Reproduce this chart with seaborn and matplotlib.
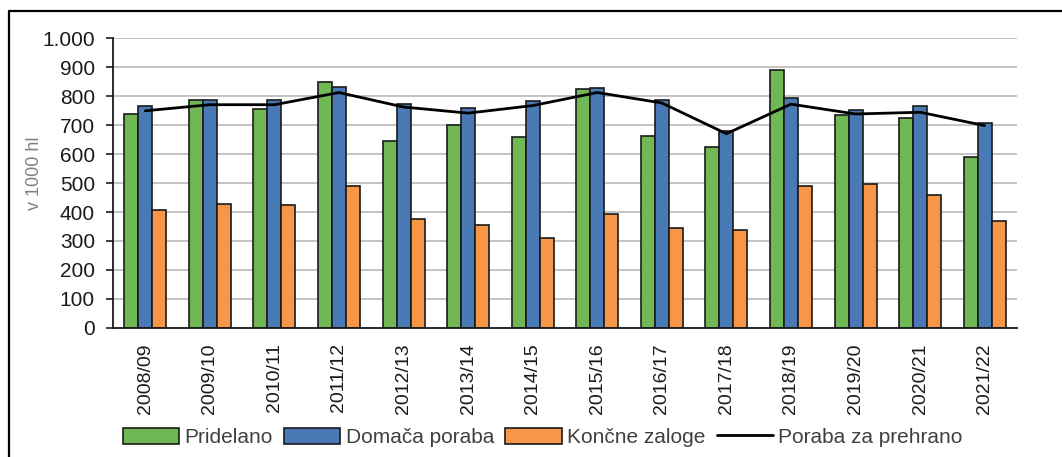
import numpy as np
import pandas as pd
import matplotlib
matplotlib.use('Agg')
import matplotlib.pyplot as plt
import seaborn as sns
from matplotlib.lines import Line2D
from matplotlib.ticker import FuncFormatter

# -----------------------------
# Data (v 1000 hl)
# -----------------------------
seasons = ['2008/09', '2009/10', '2010/11', '2011/12', '2012/13', '2013/14', '2014/15',
           '2015/16', '2016/17', '2017/18', '2018/19', '2019/20', '2020/21', '2021/22']
pridelano = [739, 787, 756, 849, 645, 699, 660, 823, 663, 624, 888, 733, 725, 589]
domaca_poraba = [764, 787, 787, 831, 773, 757, 783, 828, 787, 679, 792, 752, 764, 707]
koncne_zaloge = [407, 429, 424, 491, 376, 354, 309, 393, 345, 337, 491, 497, 460, 368]
poraba_prehrana = [749, 770, 770, 812, 762, 741, 767, 812, 776, 670, 772, 738, 744, 698]

series_names = ['Pridelano', 'Domača poraba', 'Končne zaloge']
colors = ['#70B856', '#4A7AB5', '#F79646']

df = pd.DataFrame({
    'Sezona': seasons * 3,
    'Vrednost': pridelano + domaca_poraba + koncne_zaloge,
    'Serija': [s for s in series_names for _ in seasons],
})

# -----------------------------
# Plot
# -----------------------------
sns.set_style('white')
plt.rcParams['font.family'] = ['Liberation Sans', 'DejaVu Sans']

fig = plt.figure(figsize=(10.62, 4.57), dpi=100)
ax = fig.add_axes([0.1064, 0.2823, 0.8512, 0.6345])

sns.barplot(data=df, x='Sezona', y='Vrednost', hue='Serija', palette=colors,
            width=0.65, edgecolor='#1a1a1a', linewidth=1.2, saturation=1,
            legend=False, ax=ax)
sns.lineplot(x=np.arange(len(seasons)), y=poraba_prehrana, color='black',
             linewidth=2.0, ax=ax)

ax.set_ylim(0, 1000)
ax.set_xlim(-0.5, len(seasons) - 0.5)
ax.set_yticks(range(0, 1001, 100))
ax.yaxis.set_major_formatter(FuncFormatter(lambda v, p: f'{int(v):,}'.replace(',', '.')))
ax.grid(axis='y', color='#BFBFBF', linewidth=1.3)
ax.set_axisbelow(True)
for s in ['top', 'right']:
    ax.spines[s].set_visible(False)
for s in ['left', 'bottom']:
    ax.spines[s].set_color('#1a1a1a')
    ax.spines[s].set_linewidth(1.3)

ax.tick_params(axis='y', labelsize=15, colors='#1a1a1a', length=5, width=1.2,
               direction='out', left=True, pad=8)
ax.tick_params(axis='x', labelsize=14, colors='#1a1a1a', length=0, pad=11)
plt.setp(ax.get_xticklabels(), rotation=90)
ax.set_xlabel('')
ax.set_ylabel('v 1000 hl', color='#808080', fontsize=13)
ax.yaxis.set_label_coords(-0.077, 0.534)

handles = [plt.Rectangle((0, 0), 1, 1, facecolor=c, edgecolor='#1a1a1a', linewidth=1.2)
           for c in colors]
handles.append(Line2D([0], [0], color='black', linewidth=2.0))
fig.legend(handles, series_names + ['Poraba za prehrano'], loc='center',
           bbox_to_anchor=(0.511, 0.043), ncol=4, frameon=False, fontsize=15,
           handlelength=2.7, handleheight=0.8, handletextpad=0.25, columnspacing=0.55,
           labelcolor='#404040')

# frame around the chart
fig.add_artist(Line2D([9 / 1062, 1.0], [1 - 11 / 457, 1 - 11 / 457],
                      color='black', linewidth=1.6, transform=fig.transFigure))
fig.add_artist(Line2D([9 / 1062, 9 / 1062], [1 - 11 / 457, 0.0],
                      color='black', linewidth=1.6, transform=fig.transFigure))

plt.savefig('out.png', dpi=100)
